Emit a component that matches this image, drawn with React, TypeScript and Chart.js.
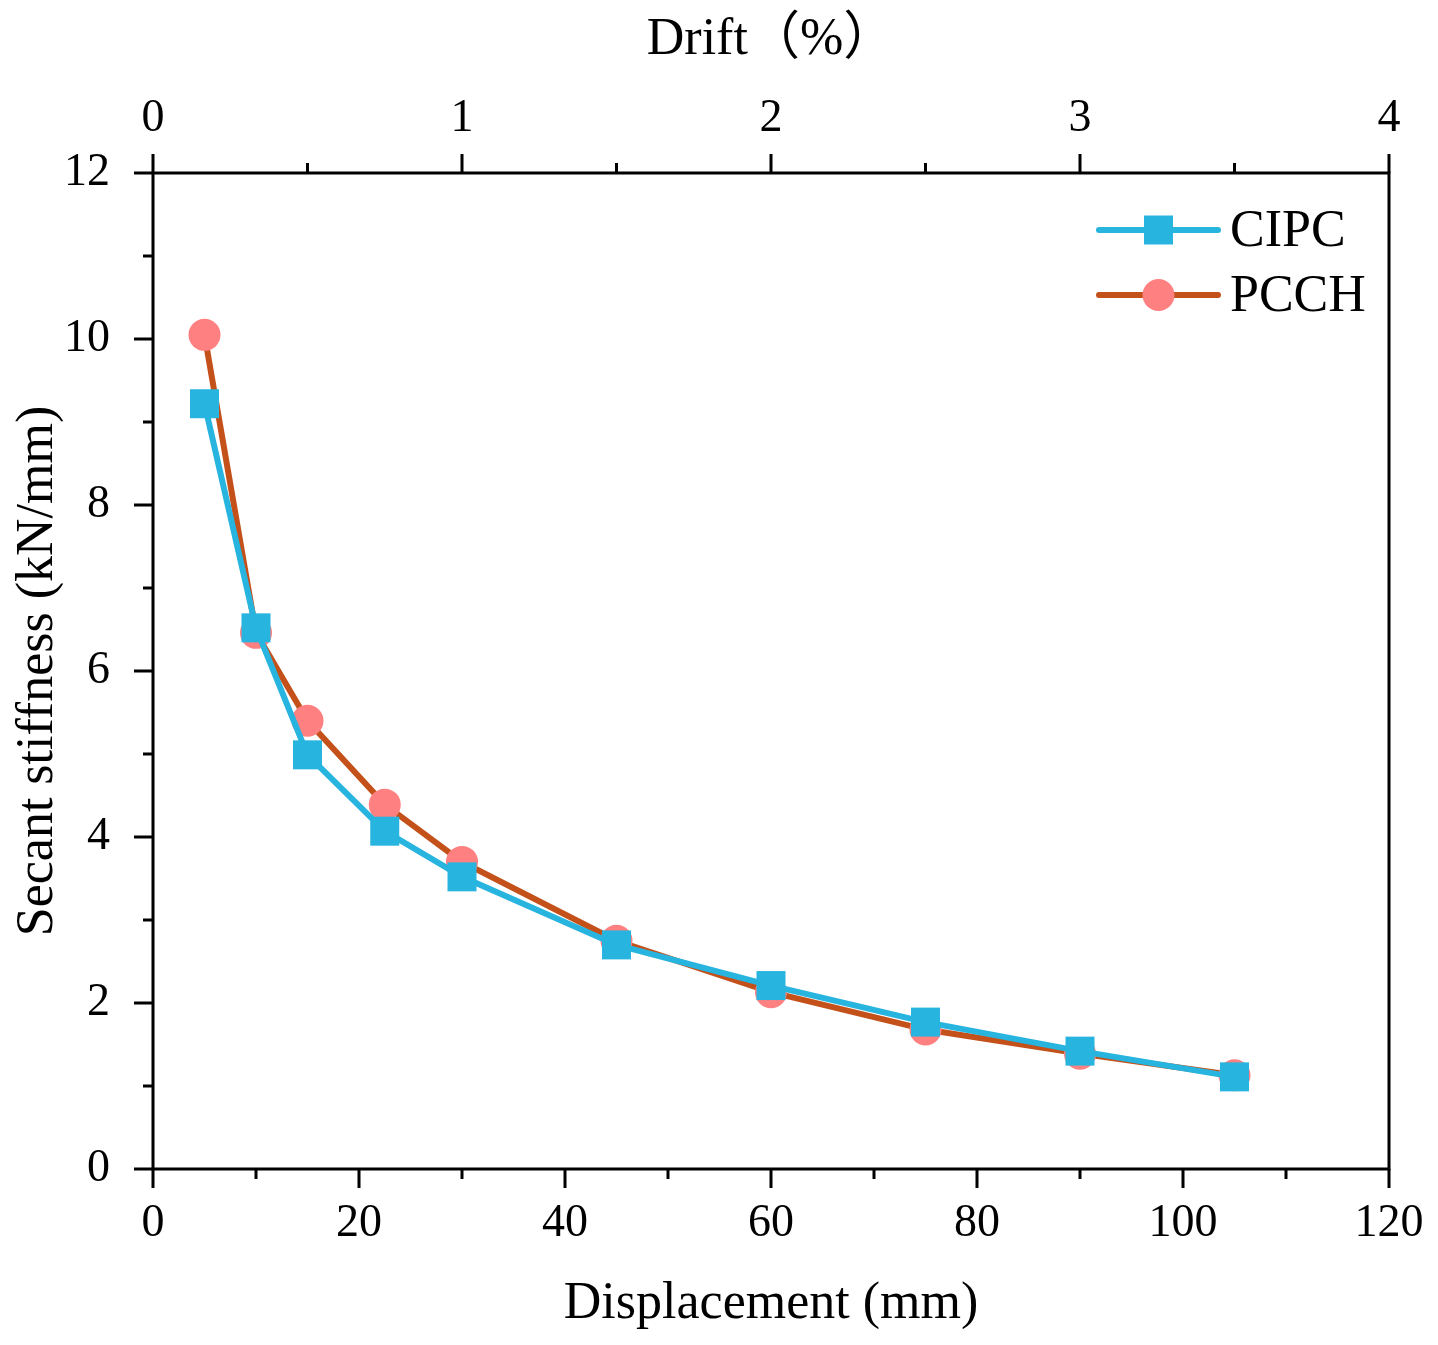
import React, { useEffect, useRef } from 'react';
import { Chart, registerables } from 'chart.js';

Chart.register(...registerables);

const displacement = [5, 10, 15, 22.5, 30, 45, 60, 75, 90, 105];
const cipcStiffness = [9.22, 6.52, 4.99, 4.07, 3.52, 2.7, 2.21, 1.77, 1.42, 1.11];
const pcchStiffness = [10.05, 6.46, 5.4, 4.39, 3.7, 2.75, 2.13, 1.68, 1.39, 1.13];
const seriesNames = ['CIPC', 'PCCH'];
const xMajorTicks = [0, 20, 40, 60, 80, 100, 120];
const xMinorTicks = [10, 30, 50, 70, 90, 110];
const yMajorTicks = [0, 2, 4, 6, 8, 10, 12];
const yMinorTicks = [1, 3, 5, 7, 9, 11];
const driftMajorTicks = [0, 1, 2, 3, 4];
const driftMinorTicks = [0.5, 1.5, 2.5, 3.5];

const FONT = '"Liberation Serif", "Times New Roman", "Noto Sans CJK SC", serif';
const CIPC_COLOR = '#27B4DF';
const PCCH_LINE = '#C4501A';
const PCCH_POINT = '#FF8080';

const framePlugin = {
  id: 'framePlugin',
  afterDraw(chart: any) {
    const { ctx, chartArea } = chart;
    const { left, right, top, bottom } = chartArea;
    const xs = chart.scales.x;
    const x2 = chart.scales.x2;
    const ys = chart.scales.y;
    const MAJ = 19;
    const MIN = 10;
    ctx.save();
    ctx.strokeStyle = '#000';
    ctx.lineWidth = 3;
    ctx.lineCap = 'butt';
    ctx.beginPath();
    ctx.rect(left, top, right - left, bottom - top);
    ctx.stroke();
    ctx.beginPath();
    xMajorTicks.forEach((v) => {
      const p = xs.getPixelForValue(v);
      ctx.moveTo(p, bottom);
      ctx.lineTo(p, bottom + MAJ);
    });
    xMinorTicks.forEach((v) => {
      const p = xs.getPixelForValue(v);
      ctx.moveTo(p, bottom);
      ctx.lineTo(p, bottom + MIN);
    });
    driftMajorTicks.forEach((v) => {
      const p = x2.getPixelForValue(v);
      ctx.moveTo(p, top);
      ctx.lineTo(p, top - MAJ);
    });
    driftMinorTicks.forEach((v) => {
      const p = x2.getPixelForValue(v);
      ctx.moveTo(p, top);
      ctx.lineTo(p, top - MIN);
    });
    yMajorTicks.forEach((v) => {
      const p = ys.getPixelForValue(v);
      ctx.moveTo(left, p);
      ctx.lineTo(left - MAJ, p);
    });
    yMinorTicks.forEach((v) => {
      const p = ys.getPixelForValue(v);
      ctx.moveTo(left, p);
      ctx.lineTo(left - MIN, p);
    });
    ctx.stroke();

    // legend
    const ds = chart.data.datasets;
    const lx0 = 1099;
    const lx1 = 1218;
    const rows = [230, 295];
    ds.forEach((d: any, i: number) => {
      const y = rows[i];
      ctx.strokeStyle = d.borderColor;
      ctx.lineWidth = 6;
      ctx.lineCap = 'round';
      ctx.beginPath();
      ctx.moveTo(lx0, y);
      ctx.lineTo(lx1, y);
      ctx.stroke();
      ctx.fillStyle = d.pointBackgroundColor;
      const cx = (lx0 + lx1) / 2;
      if (d.pointStyle === 'rect') {
        ctx.fillRect(cx - 14.5, y - 14.5, 29, 29);
      } else {
        ctx.beginPath();
        ctx.arc(cx, y, 16, 0, Math.PI * 2);
        ctx.fill();
      }
      ctx.fillStyle = '#000';
      ctx.font = `52px ${FONT}`;
      ctx.textAlign = 'left';
      ctx.textBaseline = 'middle';
      ctx.fillText(d.label, 1230, y + 2);
    });
    ctx.restore();
  },
};

export default function App() {
  const ref = useRef<HTMLCanvasElement>(null);
  useEffect(() => {
    document.body.style.margin = '0';
    const canvas = ref.current!;
    const chart = new Chart(canvas, {
      type: 'line',
      data: {
        datasets: [
          {
            label: seriesNames[0],
            data: displacement.map((x, i) => ({ x, y: cipcStiffness[i] })),
            borderColor: CIPC_COLOR,
            backgroundColor: CIPC_COLOR,
            pointBackgroundColor: CIPC_COLOR,
            pointBorderColor: CIPC_COLOR,
            pointBorderWidth: 0,
            pointStyle: 'rect',
            pointRadius: 20.5,
            borderWidth: 6,
            tension: 0,
            xAxisID: 'x',
            yAxisID: 'y',
          },
          {
            label: seriesNames[1],
            data: displacement.map((x, i) => ({ x, y: pcchStiffness[i] })),
            borderColor: PCCH_LINE,
            backgroundColor: PCCH_POINT,
            pointBackgroundColor: PCCH_POINT,
            pointBorderColor: PCCH_POINT,
            pointBorderWidth: 0,
            pointStyle: 'circle',
            pointRadius: 16,
            borderWidth: 6,
            tension: 0,
            xAxisID: 'x',
            yAxisID: 'y',
          },
        ],
      },
      options: {
        animation: false,
        responsive: false,
        devicePixelRatio: 1,
        layout: { padding: { left: 0, top: 0, right: 49, bottom: 0 } },
        plugins: { legend: { display: false }, tooltip: { enabled: false } },
        scales: {
          x: {
            type: 'linear',
            position: 'bottom',
            min: 0,
            max: 120,
            border: { display: false },
            grid: { display: false },
            ticks: {
              stepSize: 20,
              padding: 19,
              color: '#000',
              font: { family: FONT, size: 46 },
              maxRotation: 0,
            },
            title: {
              display: true,
              text: 'Displacement (mm)',
              color: '#000',
              font: { family: FONT, size: 52 },
              padding: { top: 0, bottom: 9 },
            },
            afterFit: (s: any) => {
              s.height = 176;
              s.paddingLeft = 0;
              s.paddingRight = 0;
            },
          },
          x2: {
            type: 'linear',
            axis: 'x',
            position: 'top',
            min: 0,
            max: 4,
            border: { display: false },
            grid: { display: false },
            ticks: {
              stepSize: 1,
              padding: 18,
              color: '#000',
              font: { family: FONT, size: 46 },
              maxRotation: 0,
            },
            title: {
              display: true,
              text: 'Drift（%）',
              color: '#000',
              font: { family: FONT, size: 52 },
              padding: { top: 9, bottom: 0 },
            },
            afterFit: (s: any) => {
              s.height = 173;
              s.paddingLeft = 0;
              s.paddingRight = 0;
            },
          },
          y: {
            type: 'linear',
            position: 'left',
            min: 0,
            max: 12,
            border: { display: false },
            grid: { display: false },
            ticks: {
              stepSize: 2,
              padding: 35,
              crossAlign: 'near',
              color: '#000',
              font: { family: FONT, size: 46 },
            },
            title: {
              display: true,
              text: 'Secant stiffness (kN/mm)',
              color: '#000',
              font: { family: FONT, size: 52 },
              padding: { top: 7, bottom: 0 },
            },
            afterFit: (s: any) => {
              s.width = 153;
              s.paddingTop = 0;
              s.paddingBottom = 0;
            },
          },
        },
      } as any,
      plugins: [framePlugin],
    });
    return () => chart.destroy();
  }, []);
  return <canvas ref={ref} width={1438} height={1345} style={{ display: 'block' }} />;
}
